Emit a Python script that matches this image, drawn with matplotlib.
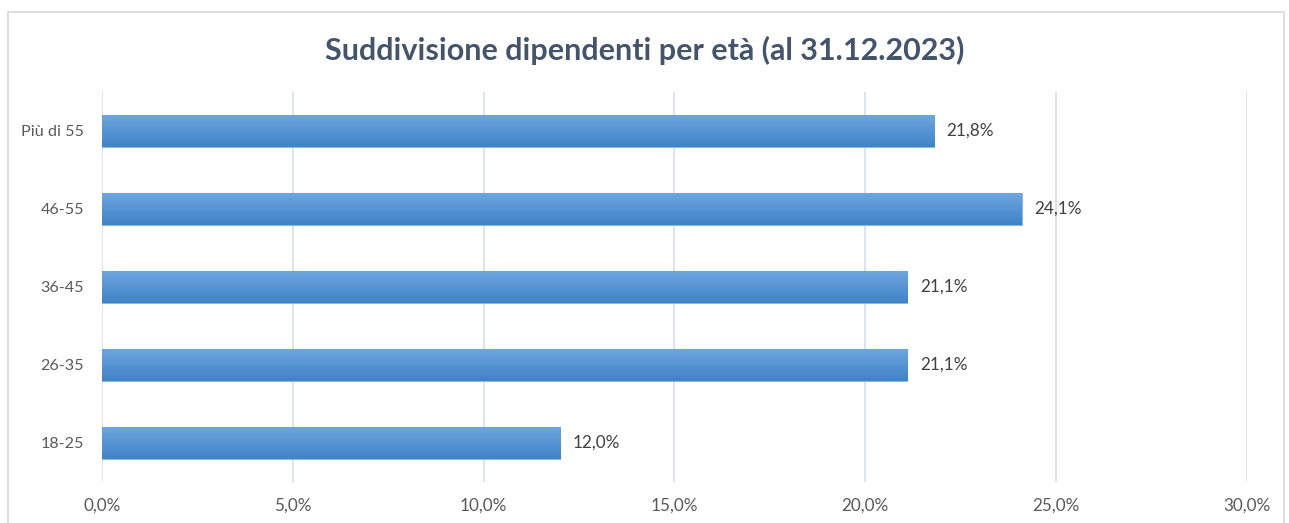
import numpy as np
import matplotlib.pyplot as plt
from matplotlib.patches import Rectangle
from matplotlib.colors import LinearSegmentedColormap
from matplotlib.ticker import FuncFormatter

plt.rcParams['font.family'] = ['Lato', 'DejaVu Sans']

categories = ['18-25', '26-35', '36-45', '46-55', 'Più di 55']
values = [12.0, 21.1, 21.1, 24.1, 21.8]
xticks = [0, 5, 10, 15, 20, 25, 30]

fig = plt.figure(figsize=(12.89, 5.23), dpi=100)
ax = fig.add_axes([0.0791, 0.0784, 0.8883, 0.7457])

# cornice esterna
fig.patches.append(Rectangle((8 / 1289, -0.05), 1276 / 1289, 1.05 - 12 / 523,
                             transform=fig.transFigure, fill=False,
                             edgecolor='#D9D9D9', linewidth=1.2))

y = np.arange(len(categories))
bars = ax.barh(y, values, height=0.4, color='#5B9BD5', edgecolor='#8DB8E4',
               linewidth=0.8, zorder=2)

# gradiente verticale sulle barre
cmap = LinearSegmentedColormap.from_list('grad', ['#3F83C8', '#6EA6DE'])
grad = np.linspace(0, 1, 100).reshape(-1, 1)
for b in bars:
    x0, y0, w, h = b.get_x(), b.get_y(), b.get_width(), b.get_height()
    im = ax.imshow(grad, extent=(x0, x0 + w, y0, y0 + h), origin='lower',
                   cmap=cmap, aspect='auto', zorder=3)
    im.set_clip_path(b)

for v, yi in zip(values, y):
    ax.annotate(f'{v:.1f}%'.replace('.', ','), (v, yi), xytext=(9, 0),
                textcoords='offset points', va='center', ha='left',
                fontsize=12.3, color='#404040')

ax.set_xlim(0, 30)
ax.set_ylim(-0.5, len(categories) - 0.5)
ax.set_yticks(y)
ax.set_yticklabels(categories)
ax.set_xticks(xticks)
ax.xaxis.set_major_formatter(FuncFormatter(lambda v, p: f'{v:.1f}%'.replace('.', ',')))
ax.tick_params(axis='x', length=0, pad=11, labelsize=12.3, labelcolor='#595959')
ax.tick_params(axis='y', length=0, pad=13, labelsize=11.6, labelcolor='#595959')
ax.grid(axis='x', color='#D9DEE8', linewidth=1.2, zorder=0)
for s in ax.spines.values():
    s.set_visible(False)

fig.text(0.5, 1 - 50 / 523, 'Suddivisione dipendenti per età (al 31.12.2023)',
         ha='center', va='center', fontsize=22, fontweight='bold', color='#44546A')

fig.savefig('out.png', dpi=100)
